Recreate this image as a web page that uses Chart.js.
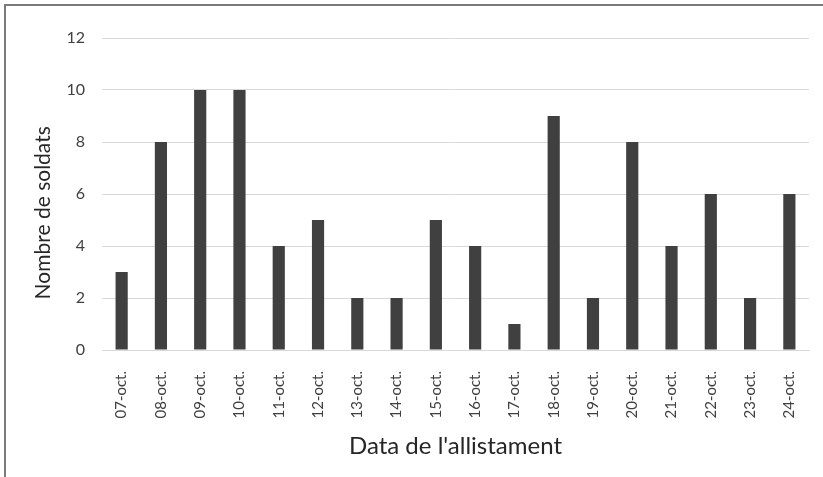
<!DOCTYPE html>
<html>
<head>
<meta charset="utf-8">
<script src="https://cdn.jsdelivr.net/npm/chart.js@4"></script>
<style>
  html, body { margin: 0; padding: 0; background: #fff; }
  #wrap { position: relative; width: 823px; height: 477px; overflow: hidden; }
  #frame { position: absolute; left: 4px; top: 4px; width: 900px; height: 600px;
           border-left: 2px solid #7a7a7a; border-top: 2px solid #7a7a7a; }
  canvas { position: absolute; left: 0; top: 0; }
</style>
</head>
<body>
<div id="wrap">
  <div id="frame"></div>
  <canvas id="chart" width="823" height="477"></canvas>
</div>
<script>
// ── Data ──
const days = ['07-oct.', '08-oct.', '09-oct.', '10-oct.', '11-oct.', '12-oct.',
  '13-oct.', '14-oct.', '15-oct.', '16-oct.', '17-oct.', '18-oct.',
  '19-oct.', '20-oct.', '21-oct.', '22-oct.', '23-oct.', '24-oct.'];
const soldiers = [3, 8, 10, 10, 4, 5, 2, 2, 5, 4, 1, 9, 2, 8, 4, 6, 2, 6];
const yTicks = [0, 2, 4, 6, 8, 10, 12];

const FONT = 'Lato, "Open Sans", sans-serif';

new Chart(document.getElementById('chart').getContext('2d'), {
  type: 'bar',
  data: {
    labels: days,
    datasets: [{
      label: 'Nombre de soldats',
      data: soldiers,
      backgroundColor: '#404040',
      borderWidth: 0,
      barPercentage: 0.62,
      categoryPercentage: 0.5
    }]
  },
  options: {
    responsive: false,
    animation: false,
    layout: { padding: { left: 10, right: 14, top: 38, bottom: 10 } },
    plugins: { legend: { display: false }, tooltip: { enabled: false } },
    scales: {
      x: {
        grid: { display: false },
        border: { color: '#d9d9d9' },
        ticks: {
          minRotation: 90, maxRotation: 90, padding: 13,
          color: '#404040', font: { size: 15, family: FONT }
        },
        title: {
          display: true, text: "Data de l'allistament",
          color: '#262626', font: { size: 24, family: FONT }, padding: { top: 4, bottom: 6 }
        },
        afterFit: (s) => { s.height = 117; }
      },
      y: {
        min: 0, max: 12,
        afterBuildTicks: (s) => { s.ticks = yTicks.map(v => ({ value: v })); },
        grid: { color: '#d9d9d9', drawTicks: false },
        border: { display: false },
        ticks: {
          padding: 17, color: '#404040', font: { size: 16, family: FONT }
        },
        title: {
          display: true,
          // trailing spaces nudge the rotated title down like the original
          text: 'Nombre de soldats' + '\u00a0'.repeat(7),
          color: '#262626', font: { size: 21, family: FONT }, padding: { top: 21 }
        },
        afterFit: (s) => { s.width = 92; }
      }
    }
  }
});
</script>
</body>
</html>
